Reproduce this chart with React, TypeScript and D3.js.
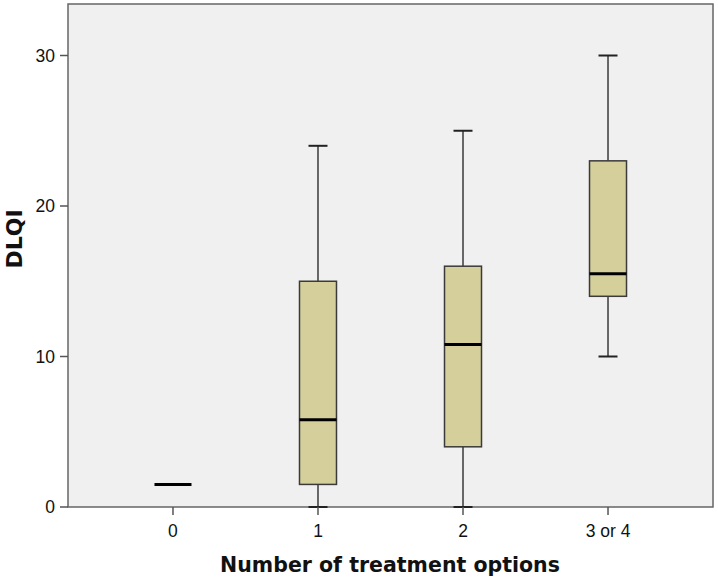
import React from "react";
import * as d3 from "d3";

const categories = ["0", "1", "2", "3 or 4"];
const whiskerLow = [1.5, 0, 0, 10];
const q1 = [1.5, 1.5, 4, 14];
const medians = [1.5, 5.8, 10.8, 15.5];
const q3 = [1.5, 15, 16, 23];
const whiskerHigh = [1.5, 24, 25, 30];
const yTicks = [0, 10, 20, 30];

const width = 718;
const height = 580;
const margin = { top: 4, right: 5, bottom: 73, left: 68 };

export default function App() {
  const x = d3
    .scalePoint<string>()
    .domain(categories)
    .range([margin.left, width - margin.right])
    .padding(0.724);
  const y = d3
    .scaleLinear()
    .domain([0, 30])
    .range([507, 55.5]);

  const boxW = 37;
  const capW = 19;
  const fill = "#d4cf9b";
  const stroke = "#3a3a3a";

  const boxes = categories.map((c, i) => ({
    c,
    lo: whiskerLow[i],
    q1: q1[i],
    med: medians[i],
    q3: q3[i],
    hi: whiskerHigh[i],
  }));

  return (
    <svg
      width={width}
      height={height}
      style={{ position: "absolute", left: 0, top: 0, background: "#fff" }}
      fontFamily="'Liberation Sans', Arial, sans-serif"
    >
      <rect
        x={margin.left}
        y={margin.top}
        width={width - margin.left - margin.right}
        height={y(0) - margin.top}
        fill="#f0f0f0"
        stroke="#666"
        strokeWidth={1.5}
      />
      {boxes.map((b) => {
        const cx = x(b.c)!;
        if (b.q3 === b.q1) {
          return (
            <line
              key={b.c}
              x1={cx - boxW / 2}
              x2={cx + boxW / 2}
              y1={y(b.med)}
              y2={y(b.med)}
              stroke="#000"
              strokeWidth={3}
            />
          );
        }
        return (
          <g key={b.c}>
            <line x1={cx} x2={cx} y1={y(b.q3)} y2={y(b.hi)} stroke={stroke} strokeWidth={1.5} />
            <line x1={cx - capW / 2} x2={cx + capW / 2} y1={y(b.hi)} y2={y(b.hi)} stroke="#222" strokeWidth={2} />
            <line x1={cx} x2={cx} y1={y(b.q1)} y2={y(b.lo)} stroke={stroke} strokeWidth={1.5} />
            <line x1={cx - capW / 2} x2={cx + capW / 2} y1={y(b.lo)} y2={y(b.lo)} stroke="#222" strokeWidth={2} />
            <rect
              x={cx - boxW / 2}
              y={y(b.q3)}
              width={boxW}
              height={y(b.q1) - y(b.q3)}
              fill={fill}
              stroke={stroke}
              strokeWidth={1.5}
            />
            <line
              x1={cx - boxW / 2}
              x2={cx + boxW / 2}
              y1={y(b.med)}
              y2={y(b.med)}
              stroke="#000"
              strokeWidth={3}
            />
          </g>
        );
      })}
      {/* y axis ticks */}
      {yTicks.map((t) => (
        <g key={t}>
          <line x1={60} x2={margin.left} y1={y(t)} y2={y(t)} stroke="#555" strokeWidth={1.5} />
          <text x={55} y={y(t)} dy="0.35em" textAnchor="end" fontSize={17.5} fill="#111">
            {t}
          </text>
        </g>
      ))}
      {/* x axis ticks */}
      {categories.map((c) => (
        <g key={c}>
          <line x1={x(c)!} x2={x(c)!} y1={y(0)} y2={y(0) + 8} stroke="#555" strokeWidth={1.5} />
          <text x={x(c)!} y={537} textAnchor="middle" fontSize={17.5} fill="#111">
            {c}
          </text>
        </g>
      ))}
      <text
        x={390}
        y={572}
        textAnchor="middle"
        fontSize={20.5}
        fontWeight="bold"
        fontFamily="'DejaVu Sans', Verdana, sans-serif"
        fill="#111"
      >
        Number of treatment options
      </text>
      <text
        transform="translate(22,239) rotate(-90)"
        textAnchor="middle"
        fontSize={22}
        fontWeight="bold"
        fontFamily="'DejaVu Sans', Verdana, sans-serif"
        fill="#111"
      >
        DLQI
      </text>
    </svg>
  );
}
